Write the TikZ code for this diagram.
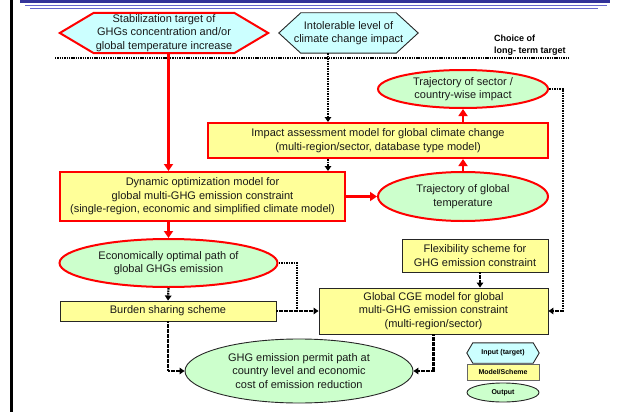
\documentclass[tikz,border=0pt]{standalone}
\usepackage{fontspec}
\setmainfont{Liberation Sans}
\usetikzlibrary{arrows.meta,backgrounds,calc,shapes.geometric}

\definecolor{inputfill}{HTML}{CCFFFF}
\definecolor{modelfill}{HTML}{FFFF99}
\definecolor{outputfill}{HTML}{CCFFCC}
\definecolor{bandblue}{HTML}{333399}
\definecolor{ruleblue}{HTML}{6666CC}
\definecolor{keyred}{HTML}{FF0000}

% hexagonal frame drawn behind a named text node: node, point depth, path style
\newcommand\hexframe[3]{%
  \begin{scope}[on background layer]
    \path[#3] (#1.west) -- ($(#1.north west)+(#2,0)$) -- ($(#1.north east)+(-#2,0)$)
      -- (#1.east) -- ($(#1.south east)+(-#2,0)$) -- ($(#1.south west)+(#2,0)$) -- cycle;
  \end{scope}}

\begin{document}
\begin{tikzpicture}[x=1pt,y=-1pt,
  txt/.style={font=\fontsize{11}{13.5}\selectfont, align=center, inner sep=0pt, text=black!90},
  keytxt/.style={font=\fontsize{7}{8}\selectfont\bfseries, align=center, inner sep=0pt},
  redmodel/.style={txt, rectangle, draw=keyred, line width=2pt, fill=modelfill},
  scheme/.style={txt, rectangle, draw=black!85, line width=0.9pt, fill=modelfill},
  redout/.style={txt, ellipse, draw=keyred, line width=2pt, fill=outputfill},
  plainout/.style={txt, ellipse, draw=black!85, line width=0.9pt, fill=outputfill},
  redhex/.style={draw=keyred, line width=2pt, fill=inputfill, line join=miter},
  plainhex/.style={draw=black!85, line width=0.9pt, fill=inputfill},
  redarrow/.style={draw=keyred, line width=2.6pt, -{Triangle[width=9pt,length=7pt]}},
  dotline/.style={draw=black, line width=2.2pt, dash pattern=on 1.6pt off 0.9pt},
  dotarrow/.style={dotline, -{Triangle[width=6.5pt,length=5pt]}},
]
\useasboundingbox (0,0) rectangle (618,412);

% page header rules and left margin bar
\fill[bandblue] (20,0) rectangle (610,3.5);
\draw[ruleblue, line width=1pt] (25,5.7) -- (607,5.7);
\draw[ruleblue, line width=1pt] (30,8.2) -- (598,8.2);
\draw[black, line width=3pt] (11.5,0) -- (11.5,412);

% targets
\node[txt, minimum width=208pt, minimum height=40pt] (hexA) at (164,33)
  {Stabilization target of\\GHGs concentration and/or\\global temperature increase};
\hexframe{hexA}{34}{redhex}
\node[txt, minimum width=139pt, minimum height=40pt] (hexB) at (348.5,33)
  {Intolerable level of\\climate change impact};
\hexframe{hexB}{22}{plainhex}

\node[font=\fontsize{9}{12}\selectfont\bfseries, align=left, anchor=west, inner sep=0pt] (choice)
  at (494,45) {Choice of\\long- term target};
\draw[dotline, line width=2pt, dash pattern=on 1.4pt off 0.9pt] (55,58) -- (570,58);

% models and outputs
\node[redout, minimum width=170pt, minimum height=38pt] (trajS) at (463,89)
  {Trajectory of sector /\\country-wise impact};
\node[redmodel, minimum width=340pt, minimum height=35pt] (impact) at (378,140.5)
  {Impact assessment model for global climate change\\(multi-region/sector, database type model)};
\node[redmodel, minimum width=285pt, minimum height=49pt] (dyn) at (202.5,196.5)
  {Dynamic optimization model for\\global multi-GHG emission constraint\\(single-region, economic and simplified climate model)};
\node[redout, minimum width=170pt, minimum height=49pt] (trajG) at (463,196.5)
  {Trajectory of global\\temperature};
\node[redout, minimum width=218pt, minimum height=48pt] (econ) at (168.5,263)
  {Economically optimal path of\\global GHGs emission};
\node[scheme, minimum width=216pt, minimum height=20pt] (burden) at (168,311)
  {Burden sharing scheme};
\node[plainout, minimum width=228pt, minimum height=64pt] (permit) at (299,371)
  {GHG emission permit path at\\country level and economic\\cost of emission reduction};
\node[scheme, minimum width=146pt, minimum height=33pt] (flex) at (475,255.5)
  {Flexibility scheme for\\GHG emission constraint};
\node[scheme, minimum width=229pt, minimum height=46pt] (cge) at (433.5,311)
  {Global CGE model for global\\multi-GHG emission constraint\\(multi-region/sector)};

% key
\node[keytxt, minimum width=72pt, minimum height=20pt] (keyIn) at (503,353) {Input (target)};
\hexframe{keyIn}{6}{plainhex}
\node[keytxt, rectangle, draw=black!60, line width=0.9pt, fill=modelfill,
  minimum width=72pt, minimum height=16pt] (keyModel) at (503,372) {Model/Scheme};
\node[keytxt, ellipse, draw=black!85, line width=0.9pt, fill=outputfill,
  minimum width=72pt, minimum height=19pt] (keyOut) at (503,392.5) {Output};

% main model chain
\draw[redarrow] (econ.north |- hexA.south) -- (econ.north |- dyn.north);
\draw[redarrow] (econ.north |- dyn.south) -- (econ.north);
\draw[redarrow] (dyn.east) -- (trajG.west);
\draw[redarrow] (trajG.north) -- (trajG.north |- impact.south);
\draw[redarrow] (trajS.south |- impact.north) -- (trajS.south);

% impact-side links
\coordinate (bx) at ($(hexB.south)+(-20.5,0)$);
\draw[dotarrow] (bx) -- (bx |- impact.north);
\draw[dotarrow] (bx |- impact.south) -- (bx |- dyn.north);
\draw[dotarrow] (trajS.east) -- ++(14,0) coordinate (rt) |- (cge.east);

% emission-side links
\coordinate (jn) at (297,311);
\draw[dotline] (econ.east) -| (jn);
\draw[dotarrow] (burden.east) -- (cge.west);
\draw[dotarrow] (econ.south) -- (burden.north);
\draw[dotarrow] (burden.south) |- (permit.west);
\draw[dotarrow] (cge.south) |- (permit.east);
\coordinate (fx) at ($(flex.south)+(5,0)$);
\draw[dotarrow] (fx) -- (fx |- cge.north);
\end{tikzpicture}
\end{document}
